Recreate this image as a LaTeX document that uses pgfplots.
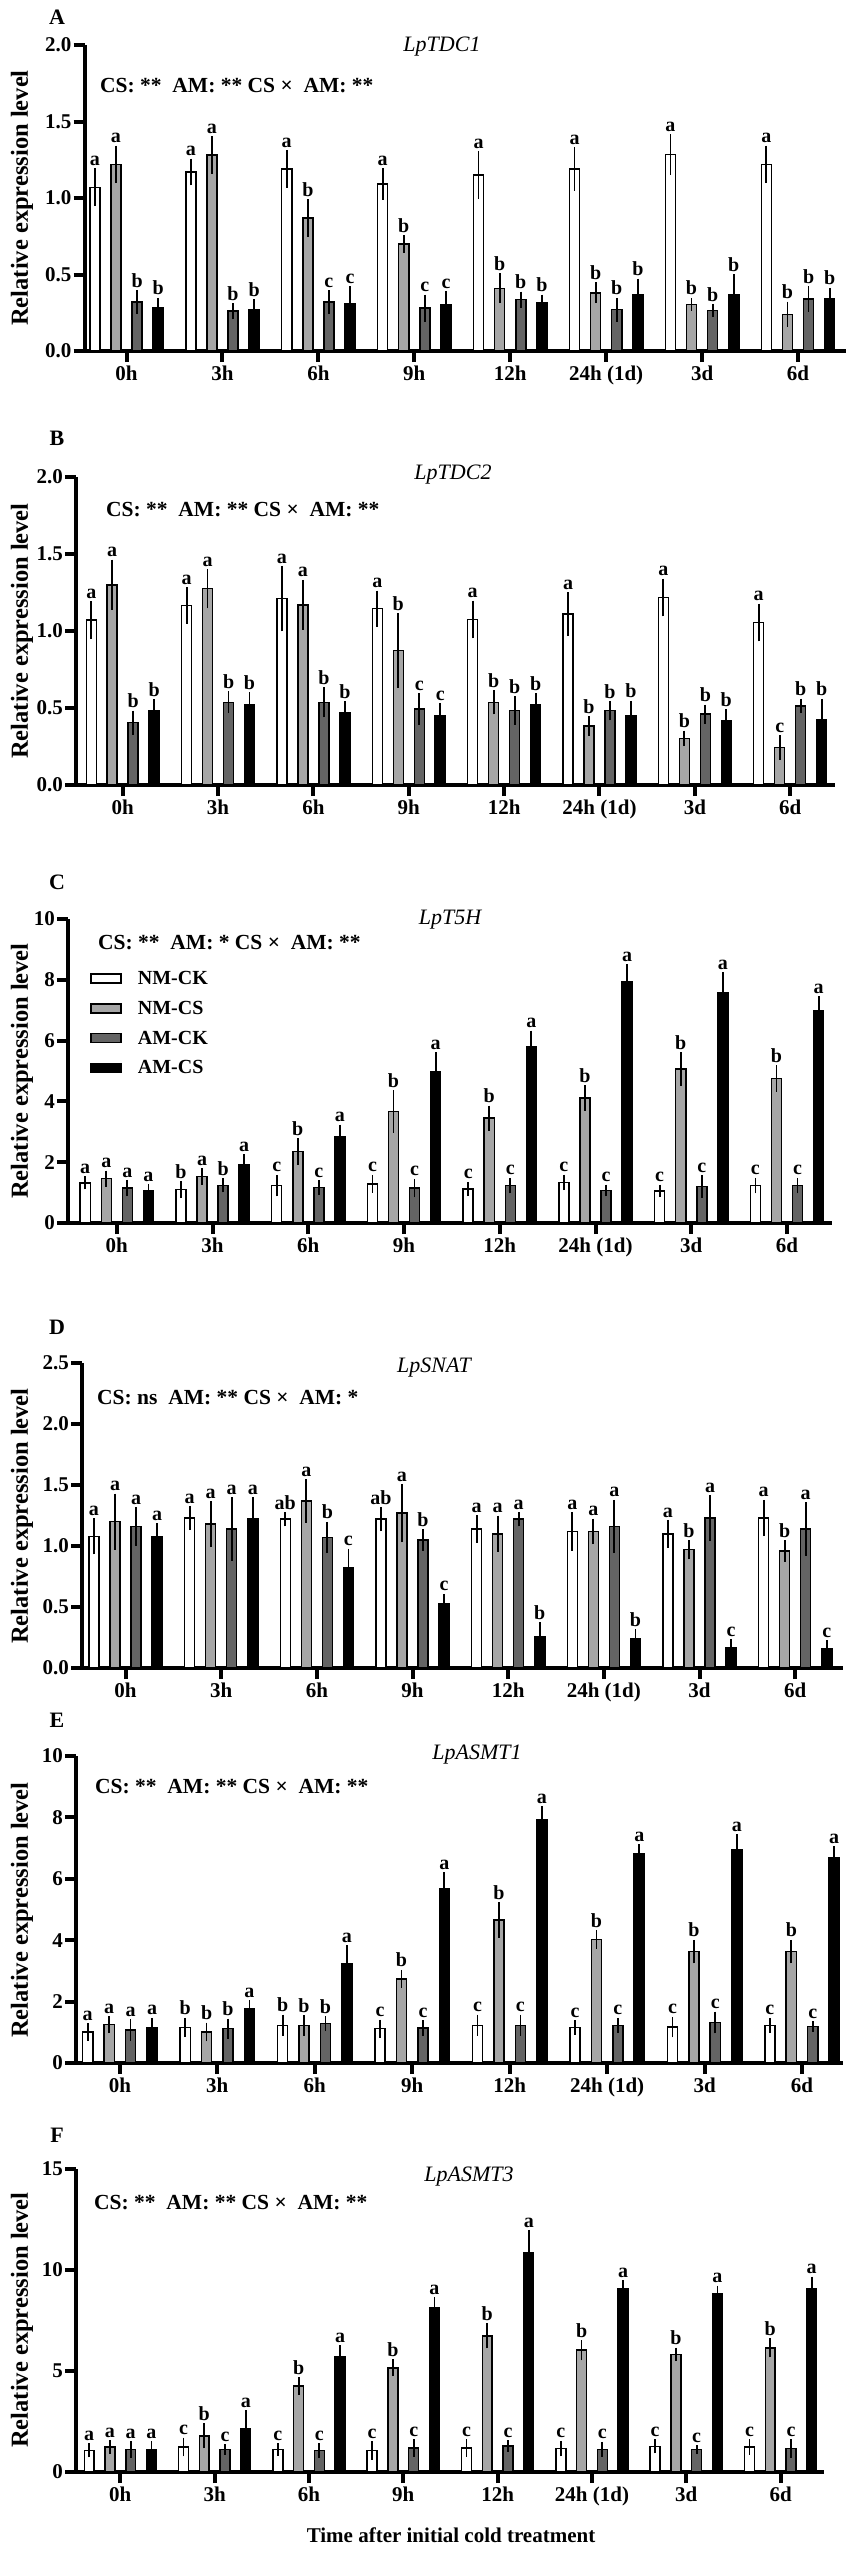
\documentclass[border=0pt]{standalone}
\usepackage{fontspec}
\setmainfont{Liberation Serif}
\usepackage{pgfplots}
\usepackage{pgfplotstable}
\pgfplotsset{compat=1.18}
\definecolor{cnmcs}{HTML}{A6A6A6}
\definecolor{camck}{HTML}{646464}
\newcommand{\fs}[1]{\fontsize{#1bp}{#1bp}\selectfont}

% columns: NM-CK (a), NM-CS (b), AM-CK (c), AM-CS (d); e = error, l = letter
\pgfplotstableread{
a ae al b be bl c ce cl d de dl
1.07 0.10 a 1.22 0.10 a 0.32 0.055 b 0.28 0.045 b
1.17 0.065 a 1.28 0.10 a 0.26 0.03 b 0.27 0.045 b
1.19 0.10 a 0.87 0.10 b 0.32 0.055 c 0.31 0.09 c
1.09 0.08 a 0.70 0.035 b 0.28 0.065 c 0.30 0.07 c
1.15 0.135 a 0.41 0.075 b 0.335 0.03 b 0.315 0.03 b
1.19 0.12 a 0.38 0.045 b 0.27 0.055 b 0.365 0.085 b
1.285 0.11 a 0.305 0.02 b 0.265 0.02 b 0.365 0.115 b
1.22 0.10 a 0.24 0.06 b 0.34 0.06 b 0.34 0.05 b
}\tA
\pgfplotstableread{
a ae al b be bl c ce cl d de dl
1.07 0.10 a 1.30 0.14 a 0.405 0.055 b 0.48 0.055 b
1.165 0.095 a 1.275 0.105 a 0.537 0.048 b 0.52 0.06 b
1.21 0.19 a 1.17 0.14 a 0.537 0.075 b 0.466 0.055 b
1.145 0.095 a 0.873 0.22 b 0.494 0.08 c 0.45 0.06 c
1.075 0.10 a 0.537 0.055 b 0.483 0.07 b 0.52 0.054 b
1.11 0.12 a 0.384 0.04 b 0.483 0.04 b 0.45 0.074 b
1.218 0.10 a 0.303 0.027 b 0.46 0.04 b 0.418 0.05 b
1.055 0.10 a 0.243 0.056 c 0.514 0.024 b 0.427 0.11 b
}\tB
\pgfplotstableread{
a ae al b be bl c ce cl d de dl
1.32 0.10 a 1.46 0.15 a 1.15 0.15 a 1.07 0.10 a
1.10 0.17 b 1.53 0.15 a 1.24 0.12 b 1.92 0.23 a
1.23 0.24 c 2.36 0.32 b 1.17 0.13 c 2.83 0.29 a
1.29 0.18 c 3.67 0.58 b 1.15 0.19 c 4.97 0.53 a
1.12 0.12 c 3.45 0.30 b 1.23 0.14 c 5.81 0.40 a
1.34 0.14 c 4.11 0.30 b 1.07 0.08 c 7.95 0.45 a
1.06 0.09 c 5.07 0.44 b 1.20 0.25 c 7.59 0.55 a
1.23 0.14 c 4.75 0.32 b 1.23 0.14 c 6.98 0.36 a
}\tC
\pgfplotstableread{
a ae al b be bl c ce cl d de dl
1.08 0.12 a 1.20 0.20 a 1.16 0.13 a 1.08 0.08 a
1.23 0.07 a 1.18 0.16 a 1.14 0.23 a 1.22 0.15 a
1.22 0.03 ab 1.37 0.15 a 1.07 0.10 b 0.82 0.13 c
1.22 0.07 ab 1.27 0.21 a 1.05 0.06 b 0.53 0.05 c
1.14 0.085 a 1.10 0.12 a 1.22 0.03 a 0.26 0.085 b
1.12 0.13 a 1.12 0.075 a 1.16 0.19 a 0.24 0.05 b
1.10 0.085 a 0.97 0.05 b 1.23 0.16 a 0.165 0.045 c
1.23 0.12 a 0.96 0.06 b 1.14 0.19 a 0.155 0.045 c
}\tD
\pgfplotstableread{
a ae al b be bl c ce cl d de dl
1.01 0.17 a 1.25 0.16 a 1.08 0.24 a 1.16 0.20 a
1.16 0.20 b 1.01 0.19 b 1.12 0.21 b 1.76 0.17 a
1.23 0.23 b 1.23 0.22 b 1.28 0.13 b 3.25 0.48 a
1.12 0.18 c 2.74 0.18 b 1.14 0.14 c 5.69 0.41 a
1.23 0.23 c 4.66 0.47 b 1.23 0.23 c 7.92 0.33 a
1.16 0.12 c 4.03 0.19 b 1.23 0.13 c 6.83 0.18 a
1.17 0.22 c 3.63 0.27 b 1.32 0.24 c 6.94 0.40 a
1.23 0.13 c 3.63 0.27 b 1.19 0.06 c 6.69 0.25 a
}\tE
\pgfplotstableread{
a ae al b be bl c ce cl d de dl
1.07 0.17 a 1.24 0.16 a 1.12 0.24 a 1.12 0.23 a
1.24 0.29 c 1.79 0.44 b 1.12 0.08 c 2.15 0.74 a
1.12 0.14 c 4.26 0.25 b 1.07 0.19 c 5.70 0.40 a
1.07 0.29 c 5.16 0.24 b 1.19 0.25 c 8.13 0.35 a
1.19 0.26 c 6.74 0.45 b 1.29 0.11 c 10.88 0.93 a
1.16 0.21 c 6.03 0.33 b 1.12 0.20 c 9.06 0.25 a
1.27 0.17 c 5.82 0.16 b 1.11 0.05 c 8.81 0.25 a
1.24 0.21 c 6.15 0.30 b 1.16 0.29 c 9.09 0.41 a
}\tF

\pgfplotsset{
  panel/.style={
    scale only axis,
    anchor=south west,
    axis lines=left,
    axis line style={-, line width=4bp, black},
    tick style={line width=4bp, black},
    major tick length=11bp,
    tick align=outside,
    ymin=0,
    xtick={0,...,7},
    xticklabels={0h,3h,6h,9h,12h,24h (1d),3d,6d},
    ticklabel style={font=\fs{21}\bfseries},
    yticklabel style={inner sep=2bp},
    /pgf/number format/assume math mode=true,
    clip=false,
  },
  onedec/.style={yticklabel style={/pgf/number format/.cd, fixed, fixed zerofill, precision=1}},
  bars/.style={ybar, bar width=0.105, bar shift=0pt, draw=black, fill=#1, line width=1.5bp, forget plot,
    error bars/.cd, y dir=both, y explicit,
    error bar style={line width=1.8bp, black},
    error mark options={mark size=3.5bp, line width=1.8bp, black}},
  letters/.style={black, draw=none, mark=none, forget plot, nodes near coords, point meta=explicit symbolic,
    nodes near coords style={font=\fs{20}\bfseries, text=black, anchor=south, inner sep=0pt, yshift=6bp}},
  boxleg/.style={legend image code/.code={\draw[fill=#1, draw=black, line width=1.5bp] (0bp,-4.5bp) rectangle (30bp,4.5bp);}},
}

\newcommand{\groupbars}[1]{%
  \addplot[bars=white] table[x expr=\coordindex-0.33, y=a, y error=ae]{#1};
  \addplot[bars=cnmcs] table[x expr=\coordindex-0.11, y=b, y error=be]{#1};
  \addplot[bars=camck] table[x expr=\coordindex+0.11, y=c, y error=ce]{#1};
  \addplot[bars=black] table[x expr=\coordindex+0.33, y=d, y error=de]{#1};
  \addplot[letters] table[x expr=\coordindex-0.33, y expr=\thisrow{a}+\thisrow{ae}, meta=al]{#1};
  \addplot[letters] table[x expr=\coordindex-0.11, y expr=\thisrow{b}+\thisrow{be}, meta=bl]{#1};
  \addplot[letters] table[x expr=\coordindex+0.11, y expr=\thisrow{c}+\thisrow{ce}, meta=cl]{#1};
  \addplot[letters] table[x expr=\coordindex+0.33, y expr=\thisrow{d}+\thisrow{de}, meta=dl]{#1};
}

\begin{document}
\begin{tikzpicture}
\path[use as bounding box] (0bp,0bp) rectangle (851bp,-2550bp);

% ---------- A ----------
\begin{axis}[panel, onedec, at={(84.5bp,-351bp)}, width=761.5bp, height=306bp,
  xmin=-0.438, xmax=7.50, ymax=2, ytick={0,0.5,1,1.5,2}]
\groupbars{\tA}
\end{axis}
\node[font=\fs{22}\bfseries] at (57bp,-17bp) {A};
\node[font=\fs{22}\itshape] at (442bp,-47bp) {LpTDC1};
\node[font=\fs{21.5}\bfseries, anchor=west, inner sep=0pt] at (100bp,-86bp) {CS: **\ \ AM: ** CS ×\ \ AM: **};
\node[font=\fs{24.5}\bfseries, rotate=90] at (22bp,-198bp) {Relative expression level};

% ---------- B ----------
\begin{axis}[panel, onedec, at={(76bp,-785bp)}, width=759bp, height=308bp,
  xmin=-0.49, xmax=7.47, ymax=2, ytick={0,0.5,1,1.5,2}]
\groupbars{\tB}
\end{axis}
\node[font=\fs{22}\bfseries] at (57bp,-438bp) {B};
\node[font=\fs{22}\itshape] at (453bp,-475bp) {LpTDC2};
\node[font=\fs{21.5}\bfseries, anchor=west, inner sep=0pt] at (106bp,-510bp) {CS: **\ \ AM: ** CS ×\ \ AM: **};
\node[font=\fs{24.5}\bfseries, rotate=90] at (22bp,-631bp) {Relative expression level};

% ---------- C ----------
\begin{axis}[panel, at={(68bp,-1223bp)}, width=764bp, height=304bp,
  xmin=-0.51, xmax=7.47, ymax=10, ytick={0,2,4,6,8,10},
  legend style={draw=none, fill=none, at={(axis description cs:0.029,0.835)}, anchor=north west,
    font=\fs{20}\bfseries, row sep=11bp, column sep=14bp, inner sep=0pt},
  legend cell align=left]
\groupbars{\tC}
\addlegendimage{boxleg=white}\addlegendentry{NM-CK}
\addlegendimage{boxleg=cnmcs}\addlegendentry{NM-CS}
\addlegendimage{boxleg=camck}\addlegendentry{AM-CK}
\addlegendimage{boxleg=black}\addlegendentry{AM-CS}
\end{axis}
\node[font=\fs{22}\bfseries] at (57bp,-882bp) {C};
\node[font=\fs{22}\itshape] at (450bp,-920bp) {LpT5H};
\node[font=\fs{21.5}\bfseries, anchor=west, inner sep=0pt] at (98bp,-943bp) {CS: **\ \ AM: * CS ×\ \ AM: **};
\node[font=\fs{24.5}\bfseries, rotate=90] at (22bp,-1071bp) {Relative expression level};

% ---------- D ----------
\begin{axis}[panel, onedec, at={(82bp,-1668bp)}, width=761bp, height=305bp,
  xmin=-0.455, xmax=7.5, ymax=2.5, ytick={0,0.5,1,1.5,2,2.5}]
\groupbars{\tD}
\end{axis}
\node[font=\fs{22}\bfseries] at (57bp,-1327bp) {D};
\node[font=\fs{22}\itshape] at (434bp,-1368bp) {LpSNAT};
\node[font=\fs{21.5}\bfseries, anchor=west, inner sep=0pt] at (97bp,-1398bp) {CS: ns\ \ AM: ** CS ×\ \ AM: *};
\node[font=\fs{24.5}\bfseries, rotate=90] at (22bp,-1516bp) {Relative expression level};

% ---------- E ----------
\begin{axis}[panel, at={(76bp,-2063bp)}, width=767bp, height=307bp,
  xmin=-0.45, xmax=7.42, ymax=10, ytick={0,2,4,6,8,10}]
\groupbars{\tE}
\end{axis}
\node[font=\fs{22}\bfseries] at (57bp,-1720bp) {E};
\node[font=\fs{22}\itshape] at (477bp,-1755bp) {LpASMT1};
\node[font=\fs{21.5}\bfseries, anchor=west, inner sep=0pt] at (95bp,-1787bp) {CS: **\ \ AM: ** CS ×\ \ AM: **};
\node[font=\fs{24.5}\bfseries, rotate=90] at (22bp,-1910bp) {Relative expression level};

% ---------- F ----------
\begin{axis}[panel, at={(76bp,-2472bp)}, width=748bp, height=303bp,
  xmin=-0.47, xmax=7.46, ymax=15, ytick={0,5,10,15}]
\groupbars{\tF}
\end{axis}
\node[font=\fs{22}\bfseries] at (57bp,-2135bp) {F};
\node[font=\fs{22}\itshape] at (469bp,-2177bp) {LpASMT3};
\node[font=\fs{21.5}\bfseries, anchor=west, inner sep=0pt] at (94bp,-2203bp) {CS: **\ \ AM: ** CS ×\ \ AM: **};
\node[font=\fs{24.5}\bfseries, rotate=90] at (22bp,-2320bp) {Relative expression level};
\node[font=\fs{21}\bfseries] at (451bp,-2535bp) {Time after initial cold treatment};
\end{tikzpicture}
\end{document}
